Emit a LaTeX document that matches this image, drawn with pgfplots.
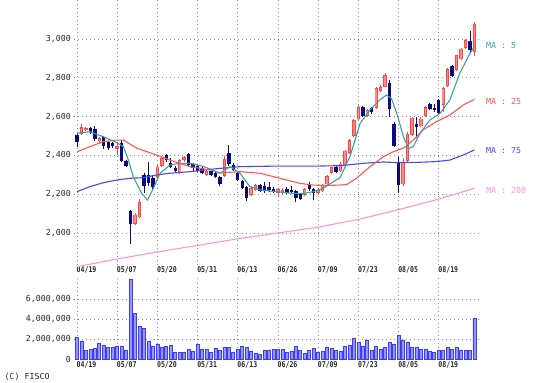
\documentclass[border=0pt]{standalone}
\usepackage{pgfplots}
\pgfplotsset{compat=1.18}
\usepackage{pgfplotstable}
\usepackage{fontspec}
\setmonofont{DejaVu Sans Mono}
\newfontfamily\datefam{DejaVu Sans Mono}[FakeStretch=0.82]
\definecolor{upedge}{RGB}{255,70,70}
\definecolor{upfill}{RGB}{255,140,140}
\definecolor{downc}{RGB}{10,10,125}
\definecolor{mafive}{RGB}{60,160,160}
\definecolor{matf}{RGB}{255,85,85}
\definecolor{masf}{RGB}{70,70,255}
\definecolor{matwo}{RGB}{255,150,210}
\definecolor{volfill}{RGB}{150,150,255}
\definecolor{voldraw}{RGB}{60,60,250}
\definecolor{txt}{RGB}{40,40,40}
\newcommand{\tickfont}{\fontsize{8.3}{9}\selectfont\ttfamily}
\newcommand{\datefont}{\fontsize{8}{9}\selectfont\datefam\bfseries}

\pgfplotstableread{
i o h l c
1 2510 2562 2505 2545
2 2532 2548 2528 2542
5 2472 2495 2460 2488
9 2432 2470 2400 2448
13 2045 2105 2040 2095
14 2080 2175 2075 2160
18 2290 2350 2285 2342
19 2345 2390 2340 2385
23 2310 2380 2305 2375
24 2375 2398 2368 2390
29 2300 2325 2295 2320
33 2295 2395 2290 2380
39 2195 2240 2190 2232
40 2220 2250 2215 2245
45 2205 2232 2185 2225
46 2208 2230 2200 2222
51 2195 2232 2190 2228
54 2208 2228 2200 2222
55 2215 2255 2210 2248
56 2250 2300 2245 2292
57 2310 2342 2305 2338
59 2318 2365 2315 2358
60 2352 2430 2348 2425
61 2412 2485 2408 2478
62 2500 2585 2495 2580
63 2585 2662 2580 2648
65 2605 2640 2600 2635
67 2645 2752 2640 2745
68 2732 2765 2728 2750
69 2755 2825 2750 2815
73 2250 2385 2240 2365
74 2370 2518 2360 2510
75 2505 2600 2498 2595
77 2550 2598 2545 2590
78 2605 2655 2600 2650
82 2660 2750 2625 2745
83 2760 2852 2755 2845
85 2840 2920 2835 2915
86 2895 2955 2890 2950
87 2955 3002 2950 2995
89 2935 3085 2910 3075
}\up

\pgfplotstableread{
i o h l c
0 2505 2515 2445 2470
3 2540 2548 2512 2518
4 2538 2550 2475 2482
6 2495 2500 2435 2450
7 2468 2475 2430 2440
8 2465 2470 2440 2448
10 2465 2480 2365 2372
11 2372 2378 2340 2345
12 2115 2120 1945 2045
15 2300 2310 2205 2240
16 2300 2368 2240 2260
17 2285 2295 2225 2235
20 2400 2405 2365 2375
21 2360 2385 2335 2340
22 2335 2345 2315 2322
25 2405 2410 2345 2350
26 2355 2362 2320 2335
27 2345 2350 2315 2322
28 2335 2340 2305 2310
30 2320 2325 2295 2300
31 2310 2315 2285 2290
32 2290 2295 2240 2250
34 2410 2455 2345 2355
35 2350 2360 2318 2325
36 2310 2315 2268 2275
37 2270 2275 2228 2232
38 2235 2240 2165 2180
41 2245 2250 2210 2218
42 2240 2265 2208 2215
43 2238 2262 2212 2220
44 2228 2235 2205 2212
47 2228 2235 2200 2208
48 2222 2242 2205 2212
49 2215 2220 2162 2182
50 2200 2205 2168 2175
52 2248 2262 2218 2225
53 2228 2232 2168 2205
58 2338 2345 2308 2312
64 2648 2655 2598 2605
66 2642 2648 2615 2622
70 2775 2790 2598 2640
71 2560 2570 2445 2450
72 2365 2390 2205 2245
76 2560 2600 2490 2548
79 2665 2670 2635 2640
80 2642 2665 2625 2634
81 2685 2690 2610 2620
84 2862 2868 2805 2810
88 2990 3040 2930 2945
}\down

\pgfplotstableread{
i v
0 2160000
1 1830000
2 860000
3 990000
4 1090000
5 1600000
6 1400000
7 1160000
8 1160000
9 1330000
10 1330000
11 930000
12 8000000
13 4600000
14 3260000
15 3100000
16 1830000
17 1330000
18 1530000
19 1200000
20 1260000
21 1400000
22 700000
23 700000
24 700000
25 1000000
26 760000
27 1460000
28 1000000
29 1000000
30 660000
31 1090000
32 860000
33 1200000
34 1200000
35 660000
36 1000000
37 1260000
38 1200000
39 830000
40 600000
41 530000
42 860000
43 930000
44 1000000
45 1000000
46 1000000
47 700000
48 760000
49 1330000
50 860000
51 600000
52 860000
53 1090000
54 660000
55 760000
56 1160000
57 1090000
58 860000
59 760000
60 1260000
61 1430000
62 2100000
63 1700000
64 1330000
65 1860000
66 930000
67 1260000
68 1000000
69 1160000
70 1700000
71 1530000
72 2360000
73 1930000
74 1700000
75 1160000
76 1160000
77 1000000
78 1000000
79 760000
80 660000
81 860000
82 860000
83 1160000
84 1000000
85 1160000
86 930000
87 860000
88 860000
89 4100000
}\vol

\begin{document}
\begin{tikzpicture}
\path[use as bounding box] (0,0) rectangle (533pt,383pt);
\pgfplotsset{
  common/.style={
    scale only axis, anchor=south west, width=404.2pt,
    xmin=-0.6, xmax=89.9,
    axis line style={draw=none}, tick style={draw=none},
    grid=major,
    grid style={black!45, line width=0.7pt, dash pattern=on 0.8pt off 3.2pt},
    xtick={0,9,...,81},
    xticklabels={04/19,05/07,05/20,05/31,06/13,06/26,07/09,07/23,08/05,08/19},
    xticklabel style={font=\datefont, text=txt, anchor=north west, inner sep=0pt, xshift=-0.5pt},
    yticklabel style={font=\tickfont, text=txt, anchor=east, inner sep=0pt, xshift=-3.3pt},
    /pgf/number format/assume math mode=true,
    /pgf/number format/1000 sep={,},
    /pgf/number format/fixed,
  }
}
% price panel
\begin{axis}[common, at={(74.3pt,118pt)}, height=265pt,
  ymin=1835, ymax=3201, clip=false,
  ytick={2000,2200,2400,2600,2800,3000},
  xticklabel style={yshift=-1.5pt}]
% wicks
\addplot[draw=none, forget plot, error bars/.cd, y dir=plus, y explicit, error mark=none,
  error bar style={draw=upedge, line width=0.9pt}]
  table[x=i, y=l, y error expr=\thisrow{h}-\thisrow{l}] {\up};
\addplot[draw=none, forget plot, error bars/.cd, y dir=plus, y explicit, error mark=none,
  error bar style={draw=downc, line width=0.9pt}]
  table[x=i, y=l, y error expr=\thisrow{h}-\thisrow{l}] {\down};
% bodies
\addplot[draw=none, forget plot, error bars/.cd, y dir=plus, y explicit, error mark=none,
  error bar style={draw=upedge, line width=3.4pt}]
  table[x=i, y=o, y error expr=\thisrow{c}-\thisrow{o}] {\up};
\addplot[draw=none, forget plot, error bars/.cd, y dir=plus, y explicit, error mark=none,
  error bar style={draw=upfill, line width=1.6pt}]
  table[x=i, y expr=\thisrow{o}+4, y error expr=\thisrow{c}-\thisrow{o}-8] {\up};
\addplot[draw=none, forget plot, error bars/.cd, y dir=plus, y explicit, error mark=none,
  error bar style={draw=downc, line width=3.4pt}]
  table[x=i, y=c, y error expr=\thisrow{o}-\thisrow{c}] {\down};
% moving averages
\addplot[matwo, line width=1.1pt] coordinates {(0,1826) (9,1866) (18,1902) (27,1936) (36,1970) (45,2000) (54,2030) (63,2070) (72,2120) (81,2175) (89,2230)};
\addplot[masf, line width=1.1pt] coordinates {(0,2213) (2.9,2239) (5.9,2259) (8.9,2273) (11.9,2282) (14.8,2285) (17.8,2299) (20.8,2308) (25.3,2316) (29.8,2328) (32,2333) (36.5,2342) (45.4,2345) (54.4,2345) (58.9,2347) (64.1,2359) (68.6,2366) (71.6,2363) (76,2364) (80.5,2368) (83.5,2376) (86.5,2402) (89,2428)};
\addplot[matf, line width=1.1pt] coordinates {(0,2419) (2.9,2445) (5.9,2471) (8.9,2479) (10.4,2479) (13.4,2437) (17.8,2402) (20.8,2376) (25.3,2342) (29.8,2325) (32,2310) (36.5,2316) (41,2308) (45.4,2282) (49.9,2256) (52.9,2247) (55.9,2245) (58.9,2247) (60.4,2250) (62.6,2282) (65.6,2342) (68.6,2393) (70.8,2419) (73.1,2437) (75.3,2479) (77.5,2531) (80.5,2574) (83.5,2608) (86.5,2660) (89,2689)};
\addplot[mafive, line width=1.1pt] coordinates {(0,2514) (2.9,2522) (5.9,2496) (8.5,2470) (10.4,2445) (11.5,2376) (12.6,2290) (14.5,2204) (15.8,2170) (17.1,2230) (18.6,2308) (20.8,2350) (23,2359) (25.3,2359) (27.5,2348) (29.8,2330) (32,2308) (34.3,2342) (36.5,2308) (38.7,2239) (41,2222) (44.7,2213) (48.4,2204) (50.7,2204) (52.9,2213) (55.1,2230) (57.4,2264) (58.9,2285) (61.1,2393) (63.4,2565) (65.6,2634) (67.8,2686) (69.3,2711) (70.4,2694) (71.6,2617) (73.1,2496) (74.2,2436) (75.3,2445) (76.8,2514) (79,2582) (81.3,2617) (83.5,2686) (85.7,2823) (88,2926) (89,2962)};
\end{axis}
% volume panel
\begin{axis}[common, at={(74.3pt,23.7pt)}, height=81.3pt,
  ymin=0, ymax=8130000, scaled y ticks=false,
  ytick={2000000,4000000,6000000},
  extra y ticks={0}, extra y tick style={grid=none},
  xticklabel style={yshift=-1.8pt}]
\addplot[ybar, bar width=3pt, bar shift=0pt, fill=volfill, draw=voldraw, line width=0.7pt]
  table[x=i, y=v] {\vol};
\end{axis}
% right-side labels and credit
\node[anchor=west, inner sep=0pt, text=mafive, font=\tickfont] at (486pt,337pt) {MA : 5};
\node[anchor=west, inner sep=0pt, text=matf, font=\tickfont] at (486pt,282pt) {MA : 25};
\node[anchor=west, inner sep=0pt, text=masf, font=\tickfont] at (486pt,232pt) {MA : 75};
\node[anchor=west, inner sep=0pt, text=matwo, font=\tickfont] at (486pt,193pt) {MA : 200};
\node[anchor=west, inner sep=0pt, text=txt, font=\tickfont] at (4.5pt,6pt) {(C) FISCO};
\end{tikzpicture}
\end{document}
